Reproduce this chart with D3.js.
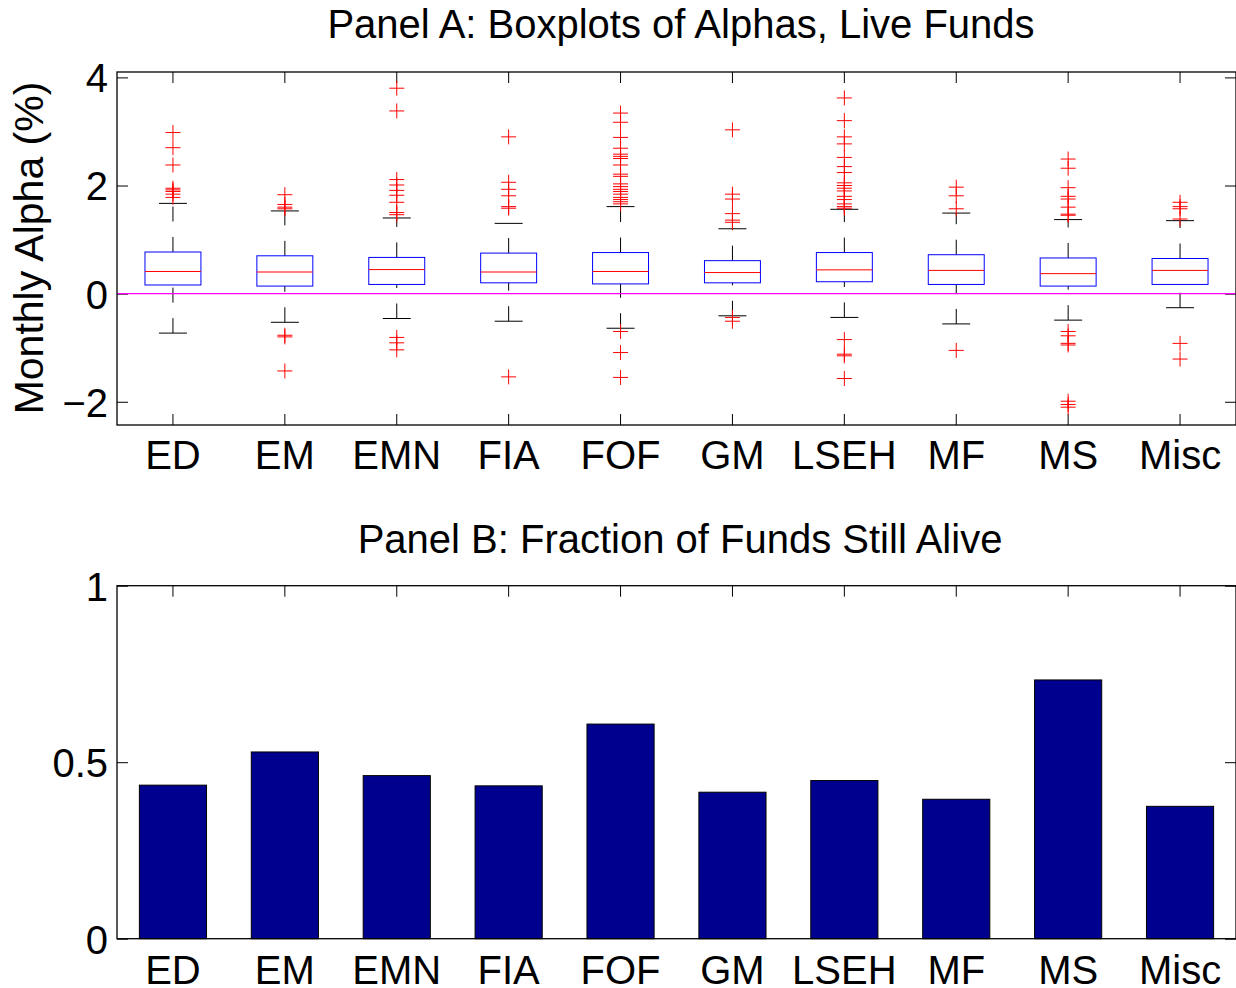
<!DOCTYPE html>
<html>
<head>
<meta charset="utf-8">
<script src="https://cdn.jsdelivr.net/npm/d3@7"></script>
<style>
  body { margin: 0; background: #fff; }
  svg { display: block; font-family: "Liberation Sans", Arial, Helvetica, sans-serif; }
</style>
</head>
<body>
<div id="chart"></div>
<script>
// categories and values
const categories = ["ED", "EM", "EMN", "FIA", "FOF", "GM", "LSEH", "MF", "MS", "Misc"];

// Panel A: boxplot summary per category (monthly alpha, %)
const q1 = [0.16, 0.14, 0.17, 0.20, 0.18, 0.20, 0.22, 0.17, 0.14, 0.17];
const medians = [0.41, 0.40, 0.445, 0.40, 0.41, 0.39, 0.44, 0.43, 0.37, 0.43];
const q3 = [0.77, 0.70, 0.67, 0.75, 0.76, 0.61, 0.76, 0.72, 0.66, 0.65];
const whiskerLow = [-0.73, -0.53, -0.46, -0.51, -0.64, -0.41, -0.44, -0.56, -0.49, -0.26];
const whiskerHigh = [1.67, 1.53, 1.40, 1.30, 1.61, 1.20, 1.56, 1.49, 1.37, 1.35];
const outliers = [
  [2.98, 2.70, 2.38, 1.95, 1.92, 1.89, 1.84, 1.78],
  [1.83, 1.65, 1.60, 1.57, -0.77, -0.80, -1.43],
  [3.80, 3.38, 2.11, 2.01, 1.91, 1.82, 1.69, 1.50, 1.46, -0.81, -0.91, -1.04],
  [2.90, 2.06, 1.93, 1.81, 1.61, 1.58, -1.54],
  [3.34, 3.17, 2.89, 2.69, 2.58, 2.54, 2.50, 2.38, 2.21, 2.17, 2.03, 1.98, 1.93, 1.89, 1.84, 1.78, 1.74, 1.70, 1.66, -0.70, -1.09, -1.55],
  [3.03, 1.84, 1.75, 1.48, 1.36, 1.32, -0.44, -0.51],
  [3.62, 3.20, 2.90, 2.77, 2.52, 2.35, 2.24, 2.05, 2.00, 1.95, 1.90, 1.80, 1.74, 1.66, 1.61, 1.58, -0.85, -1.12, -1.15, -1.57],
  [1.97, 1.81, 1.57, -1.05],
  [2.49, 2.32, 1.96, 1.80, 1.75, 1.60, 1.47, 1.45, -0.70, -0.78, -0.92, -0.95, -1.99, -2.05, -2.10],
  [1.69, 1.61, 1.57, 1.38, -0.92, -1.21]
];
const alphaTicks = [-2, 0, 2, 4];

// Panel B: fraction of funds still alive
const fractionAlive = [0.435, 0.529, 0.462, 0.433, 0.608, 0.415, 0.448, 0.395, 0.733, 0.375];
const fractionTicks = [0, 0.5, 1];

const W = 1236, H = 988;
const fs = 40;

const svg = d3.select("#chart").append("svg")
  .attr("width", W)
  .attr("height", H);

const left = 117, right = 1236;

const x = d3.scaleBand()
  .domain(categories)
  .range([left, right])
  .padding(0);
const cx = d => x(d) + x.bandwidth() / 2;

function styleAxis(g) {
  g.select(".domain").remove();
  g.selectAll(".tick line").attr("stroke", "#000").attr("stroke-width", 1);
  g.selectAll(".tick text").attr("fill", "#000").style("font-size", fs + "px");
}

// ---------------- Panel A ----------------
const aTop = 72, aBottom = 425;
const yA = d3.scaleLinear().domain([-2.43, 4.1]).range([aBottom, aTop]);
const boxW = x.bandwidth() * 0.5, capW = x.bandwidth() * 0.25;

svg.append("g")
  .attr("transform", `translate(${left},0)`)
  .call(d3.axisLeft(yA).tickValues(alphaTicks).tickSize(-11).tickPadding(9).tickFormat(d3.format("d")))
  .call(styleAxis)
  .selectAll(".tick text").attr("dy", "0.36em");

svg.append("g")
  .attr("transform", `translate(${right},0)`)
  .call(d3.axisRight(yA).tickValues(alphaTicks).tickSize(-11).tickFormat(""))
  .call(styleAxis);

svg.append("g")
  .attr("transform", `translate(0,${aBottom})`)
  .call(d3.axisBottom(x).tickSize(-11).tickPadding(16))
  .call(styleAxis);

svg.append("g")
  .attr("transform", `translate(0,${aTop})`)
  .call(d3.axisTop(x).tickSize(-11).tickFormat(""))
  .call(styleAxis);

const boxes = svg.append("g").selectAll("g")
  .data(categories)
  .join("g");

// whiskers (dashed), drawn from lower value to upper value like the original
boxes.append("line")
  .attr("x1", d => cx(d)).attr("x2", d => cx(d))
  .attr("y1", (d, i) => yA(q3[i])).attr("y2", (d, i) => yA(whiskerHigh[i]))
  .attr("stroke", "#000").attr("stroke-dasharray", "15,15.5");
boxes.append("line")
  .attr("x1", d => cx(d)).attr("x2", d => cx(d))
  .attr("y1", (d, i) => yA(whiskerLow[i])).attr("y2", (d, i) => yA(q1[i]))
  .attr("stroke", "#000").attr("stroke-dasharray", "15,15.5");

// caps
boxes.append("line")
  .attr("x1", d => cx(d) - capW / 2).attr("x2", d => cx(d) + capW / 2)
  .attr("y1", (d, i) => yA(whiskerHigh[i])).attr("y2", (d, i) => yA(whiskerHigh[i]))
  .attr("stroke", "#000");
boxes.append("line")
  .attr("x1", d => cx(d) - capW / 2).attr("x2", d => cx(d) + capW / 2)
  .attr("y1", (d, i) => yA(whiskerLow[i])).attr("y2", (d, i) => yA(whiskerLow[i]))
  .attr("stroke", "#000");

// box
boxes.append("rect")
  .attr("x", d => cx(d) - boxW / 2)
  .attr("y", (d, i) => yA(q3[i]))
  .attr("width", boxW)
  .attr("height", (d, i) => yA(q1[i]) - yA(q3[i]))
  .attr("fill", "none")
  .attr("stroke", "#0000ff");

// median
boxes.append("line")
  .attr("x1", d => cx(d) - boxW / 2).attr("x2", d => cx(d) + boxW / 2)
  .attr("y1", (d, i) => yA(medians[i])).attr("y2", (d, i) => yA(medians[i]))
  .attr("stroke", "#ff0000");

// outliers as red plus signs
const pts = categories.flatMap((c, i) => outliers[i].map(v => ({ c, v })));
svg.append("g").selectAll("path")
  .data(pts)
  .join("path")
  .attr("d", p => `M${cx(p.c) - 7.5},${yA(p.v)}h15M${cx(p.c)},${yA(p.v) - 7.5}v15`)
  .attr("stroke", "#ff0000")
  .attr("fill", "none");

// zero line
svg.append("line")
  .attr("x1", left).attr("x2", right)
  .attr("y1", yA(0)).attr("y2", yA(0))
  .attr("stroke", "#ff00ff").attr("stroke-width", 1.2);

svg.append("rect")
  .attr("x", left).attr("y", aTop)
  .attr("width", right - left).attr("height", aBottom - aTop)
  .attr("fill", "none").attr("stroke", "#000").attr("stroke-width", 1.3);

svg.append("text")
  .attr("x", 681).attr("y", 38)
  .attr("text-anchor", "middle")
  .style("font-size", "40px")
  .text("Panel A: Boxplots of Alphas, Live Funds");

svg.append("text")
  .attr("transform", "translate(43,248) rotate(-90)")
  .attr("text-anchor", "middle")
  .style("font-size", "41px")
  .text("Monthly Alpha (%)");

// ---------------- Panel B ----------------
const bTop = 585.7, bBottom = 938.7;
const yB = d3.scaleLinear().domain([0, 1]).range([bBottom, bTop]);
const barW = x.bandwidth() * 0.6;

svg.append("g")
  .attr("transform", `translate(${left},0)`)
  .call(d3.axisLeft(yB).tickValues(fractionTicks).tickSize(-11).tickPadding(9).tickFormat(d => String(d)))
  .call(styleAxis)
  .selectAll(".tick text").attr("dy", "0.36em");

svg.append("g")
  .attr("transform", `translate(${right},0)`)
  .call(d3.axisRight(yB).tickValues(fractionTicks).tickSize(-11).tickFormat(""))
  .call(styleAxis);

svg.append("g")
  .attr("transform", `translate(0,${bBottom})`)
  .call(d3.axisBottom(x).tickSize(-11).tickPadding(17))
  .call(styleAxis);

svg.append("g")
  .attr("transform", `translate(0,${bTop})`)
  .call(d3.axisTop(x).tickSize(-11).tickFormat(""))
  .call(styleAxis);

svg.append("g").selectAll("rect")
  .data(categories)
  .join("rect")
  .attr("x", d => cx(d) - barW / 2)
  .attr("y", (d, i) => yB(fractionAlive[i]))
  .attr("width", barW)
  .attr("height", (d, i) => yB(0) - yB(fractionAlive[i]))
  .attr("fill", "#00008f")
  .attr("stroke", "#000")
  .attr("stroke-width", 1);

svg.append("rect")
  .attr("x", left).attr("y", bTop)
  .attr("width", right - left).attr("height", bBottom - bTop)
  .attr("fill", "none").attr("stroke", "#000").attr("stroke-width", 1.3);

svg.append("text")
  .attr("x", 680).attr("y", 553)
  .attr("text-anchor", "middle")
  .style("font-size", "40px")
  .text("Panel B: Fraction of Funds Still Alive");
</script>
</body>
</html>
